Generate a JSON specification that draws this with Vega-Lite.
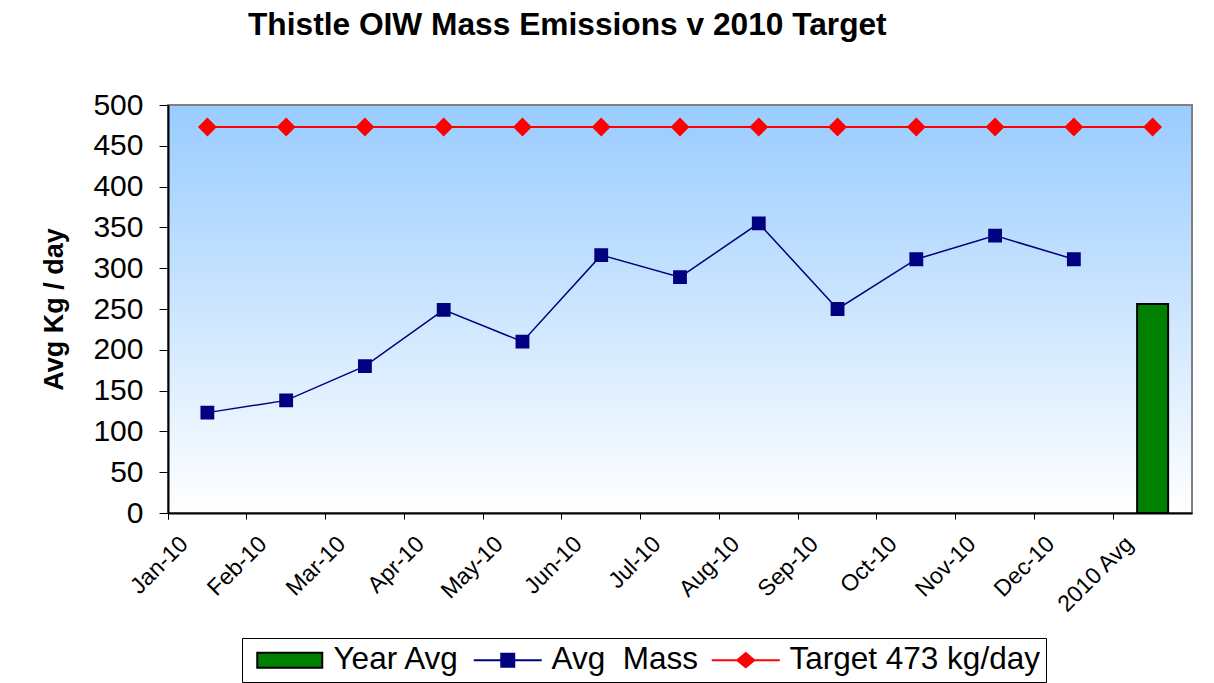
{
  "$schema": "https://vega.github.io/schema/vega-lite/v6.json",
  "width": 1024,
  "height": 408,
  "autosize": {"type": "none"},
  "padding": {"left": 168, "top": 105, "right": 22, "bottom": 170},
  "background": "white",
  "title": {
    "text": "Thistle OIW Mass Emissions v 2010 Target",
    "anchor": "start",
    "frame": "group",
    "dx": 80,
    "offset": 48,
    "font": "Liberation Sans",
    "fontSize": 31.7,
    "fontWeight": "bold",
    "color": "black"
  },
  "data": {
    "values": [
      {"m": "Jan-10", "s": "Avg\u00a0 Mass", "v": 123},
      {"m": "Feb-10", "s": "Avg\u00a0 Mass", "v": 138},
      {"m": "Mar-10", "s": "Avg\u00a0 Mass", "v": 180},
      {"m": "Apr-10", "s": "Avg\u00a0 Mass", "v": 249},
      {"m": "May-10", "s": "Avg\u00a0 Mass", "v": 210},
      {"m": "Jun-10", "s": "Avg\u00a0 Mass", "v": 316},
      {"m": "Jul-10", "s": "Avg\u00a0 Mass", "v": 289},
      {"m": "Aug-10", "s": "Avg\u00a0 Mass", "v": 355},
      {"m": "Sep-10", "s": "Avg\u00a0 Mass", "v": 250},
      {"m": "Oct-10", "s": "Avg\u00a0 Mass", "v": 311},
      {"m": "Nov-10", "s": "Avg\u00a0 Mass", "v": 340},
      {"m": "Dec-10", "s": "Avg\u00a0 Mass", "v": 311},
      {"m": "2010 Avg", "s": "Year Avg", "v": 256},
      {"m": "Jan-10", "s": "Target 473 kg/day", "v": 473},
      {"m": "Feb-10", "s": "Target 473 kg/day", "v": 473},
      {"m": "Mar-10", "s": "Target 473 kg/day", "v": 473},
      {"m": "Apr-10", "s": "Target 473 kg/day", "v": 473},
      {"m": "May-10", "s": "Target 473 kg/day", "v": 473},
      {"m": "Jun-10", "s": "Target 473 kg/day", "v": 473},
      {"m": "Jul-10", "s": "Target 473 kg/day", "v": 473},
      {"m": "Aug-10", "s": "Target 473 kg/day", "v": 473},
      {"m": "Sep-10", "s": "Target 473 kg/day", "v": 473},
      {"m": "Oct-10", "s": "Target 473 kg/day", "v": 473},
      {"m": "Nov-10", "s": "Target 473 kg/day", "v": 473},
      {"m": "Dec-10", "s": "Target 473 kg/day", "v": 473},
      {"m": "2010 Avg", "s": "Target 473 kg/day", "v": 473}
    ]
  },
  "encoding": {
    "x": {
      "field": "m",
      "type": "nominal",
      "sort": ["Jan-10","Feb-10","Mar-10","Apr-10","May-10","Jun-10","Jul-10","Aug-10","Sep-10","Oct-10","Nov-10","Dec-10","2010 Avg"],
      "scale": {"type": "band", "paddingInner": 0, "paddingOuter": 0},
      "axis": {
        "title": null,
        "bandPosition": 0,
        "tickExtra": true,
        "labelAngle": -45,
        "labelAlign": "right",
        "labelBaseline": "middle",
        "labelOffset": -23,
        "labelPadding": 21,
        "labelFont": "Liberation Sans",
        "labelFontSize": 23,
        "labelColor": "black",
        "tickSize": 6,
        "tickColor": "black",
        "domainColor": "black",
        "domainWidth": 2,
        "labelOverlap": false
      }
    },
    "y": {
      "field": "v",
      "type": "quantitative",
      "scale": {"domain": [0, 500], "nice": false, "zero": true},
      "axis": {
        "title": "Avg Kg / day",
        "titleFont": "Liberation Sans",
        "titleFontSize": 27,
        "titleFontWeight": "bold",
        "titleColor": "black",
        "titlePadding": 24,
        "values": [0,50,100,150,200,250,300,350,400,450,500],
        "grid": false,
        "tickSize": 9,
        "tickColor": "black",
        "domainColor": "black",
        "domainWidth": 2,
        "labelFont": "Liberation Sans",
        "labelFontSize": 30,
        "labelColor": "black",
        "labelPadding": 16
      }
    },
    "color": {
      "field": "s",
      "type": "nominal",
      "scale": {
        "domain": ["Year Avg", "Avg\u00a0 Mass", "Target 473 kg/day"],
        "range": ["#008000", "#000080", "#FF0000"]
      },
      "legend": {
        "title": null,
        "orient": "none",
        "legendX": 74,
        "legendY": 533,
        "direction": "horizontal",
        "fillColor": "white",
        "strokeColor": "black",
        "padding": 6,
        "columnPadding": 6,
        "labelFont": "Liberation Sans",
        "labelFontSize": 31.5,
        "labelColor": "black",
        "labelLimit": 500,
        "symbolSize": 400,
        "symbolOffset": 26,
        "labelOffset": 28,
        "symbolStrokeWidth": 2,
        "encode": {
          "symbols": {
            "update": {
              "shape": {"signal": "datum.value === 'Year Avg' ? 'M-3.25,-0.75H3.25V0.75H-3.25Z' : (datum.value === 'Target 473 kg/day' ? 'M-3.4,0H3.4M0,-0.7L0.85,0L0,0.7L-0.85,0Z' : 'M-3.4,0H3.4M-0.65,-0.65H0.65V0.65H-0.65Z')"},
              "strokeWidth": {"value": 2},
              "opacity": {"value": 1}
            }
          }
        }
      }
    },
    "stroke": {
      "field": "s",
      "type": "nominal",
      "scale": {
        "domain": ["Year Avg", "Avg\u00a0 Mass", "Target 473 kg/day"],
        "range": ["#000000", "#000080", "#FF0000"]
      },
      "legend": {
        "title": null,
        "orient": "none",
        "legendX": 74,
        "legendY": 533,
        "direction": "horizontal",
        "fillColor": "white",
        "strokeColor": "black",
        "padding": 6,
        "columnPadding": 6,
        "labelFont": "Liberation Sans",
        "labelFontSize": 31.5,
        "labelColor": "black",
        "labelLimit": 500,
        "symbolSize": 400,
        "symbolOffset": 26,
        "labelOffset": 28,
        "symbolStrokeWidth": 2,
        "encode": {
          "symbols": {
            "update": {
              "shape": {"signal": "datum.value === 'Year Avg' ? 'M-3.25,-0.75H3.25V0.75H-3.25Z' : (datum.value === 'Target 473 kg/day' ? 'M-3.4,0H3.4M0,-0.7L0.85,0L0,0.7L-0.85,0Z' : 'M-3.4,0H3.4M-0.65,-0.65H0.65V0.65H-0.65Z')"},
              "strokeWidth": {"value": 2},
              "opacity": {"value": 1}
            }
          }
        }
      }
    }
  },
  "layer": [
    {
      "transform": [{"filter": "datum.s === 'Year Avg'"}],
      "mark": {"type": "bar", "size": 31, "strokeWidth": 2}
    },
    {
      "transform": [{"filter": "datum.s !== 'Year Avg' && datum.s !== 'Target 473 kg/day'"}],
      "mark": {"type": "line", "strokeWidth": 1.5, "point": {"shape": "square", "size": 140, "filled": true}}
    },
    {
      "transform": [{"filter": "datum.s === 'Target 473 kg/day'"}],
      "mark": {"type": "line", "strokeWidth": 2, "point": {"shape": "diamond", "size": 256, "filled": true}}
    }
  ],
  "config": {
    "view": {
      "stroke": "#808080",
      "strokeWidth": 2,
      "fill": {
        "gradient": "linear",
        "x1": 0, "y1": 0, "x2": 0, "y2": 1,
        "stops": [
          {"offset": 0, "color": "#99CCFF"},
          {"offset": 1, "color": "#FFFFFF"}
        ]
      }
    }
  }
}
